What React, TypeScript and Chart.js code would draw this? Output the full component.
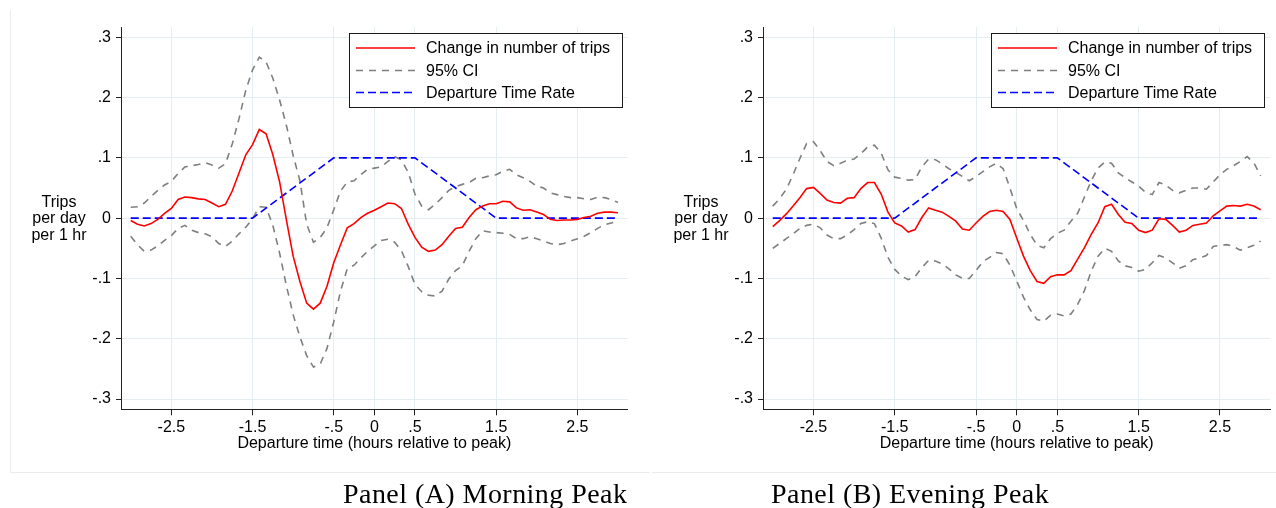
import React, { useEffect, useRef } from 'react';
import { Chart, registerables } from 'chart.js';

Chart.register(...registerables);

const FONT = '"Liberation Sans", Arial, Helvetica, sans-serif';
const SERIF = '"Liberation Serif", "Times New Roman", serif';

// Departure time: minutes relative to peak (5-minute steps)
const MINUTES = [
  -180, -175, -170, -165, -160, -155, -150, -145, -140, -135, -130, -125, -120,
  -115, -110, -105, -100, -95, -90, -85, -80, -75, -70, -65, -60, -55, -50, -45,
  -40, -35, -30, -25, -20, -15, -10, -5, 0, 5, 10, 15, 20, 25, 30, 35, 40, 45, 50,
  55, 60, 65, 70, 75, 80, 85, 90, 95, 100, 105, 110, 115, 120, 125, 130, 135, 140,
  145, 150, 155, 160, 165, 170, 175, 180,
];

const X_TICKS = [-2.5, -1.5, -0.5, 0, 0.5, 1.5, 2.5];
const Y_TICKS = [-0.3, -0.2, -0.1, 0, 0.1, 0.2, 0.3];

const X_TITLE = 'Departure time (hours relative to peak)';
const Y_TITLE = ['Trips', 'per day', 'per 1 hr'];
const LEGEND_LABELS = ['Change in number of trips', '95% CI', 'Departure Time Rate'];
const CAPTIONS = ['Panel (A) Morning Peak', 'Panel (B) Evening Peak'];

// Departure time rate (corner points, hours / rate)
const RATE_HOURS = [-3, -1.5, -0.5, 0.5, 1.5, 3];
const RATE_VALUES = [0, 0, 0.1, 0.1, 0, 0];

// Panel A: morning peak
const AM_CHANGE = [
  -0.004, -0.010, -0.013, -0.009, -0.002, 0.008, 0.016, 0.031, 0.035, 0.034,
  0.032, 0.031, 0.025, 0.019, 0.023, 0.045, 0.075, 0.105, 0.122, 0.147,
  0.140, 0.105, 0.060, -0.003, -0.063, -0.105, -0.141, -0.151, -0.141, -0.113,
  -0.074, -0.044, -0.016, -0.009, 0.001, 0.008, 0.013, 0.019, 0.025, 0.024,
  0.016, -0.010, -0.032, -0.048, -0.055, -0.053, -0.044, -0.030, -0.017, -0.015,
  0.001, 0.014, 0.020, 0.024, 0.024, 0.028, 0.027, 0.017, 0.013, 0.014,
  0.010, 0.006, -0.002, -0.004, -0.003, -0.003, -0.002, 0.001, 0.003, 0.008,
  0.010, 0.010, 0.009,
];
const AM_UPPER = [
  0.018, 0.019, 0.025, 0.036, 0.046, 0.055, 0.061, 0.074, 0.085, 0.087,
  0.089, 0.092, 0.088, 0.083, 0.090, 0.123, 0.165, 0.212, 0.246, 0.267,
  0.259, 0.232, 0.196, 0.154, 0.104, 0.062, -0.010, -0.040, -0.032, -0.016,
  0.014, 0.045, 0.060, 0.062, 0.072, 0.081, 0.083, 0.085, 0.094, 0.102,
  0.097, 0.076, 0.040, 0.020, 0.014, 0.023, 0.034, 0.046, 0.052, 0.056,
  0.059, 0.066, 0.067, 0.070, 0.072, 0.078, 0.081, 0.072, 0.067, 0.061,
  0.053, 0.050, 0.042, 0.039, 0.036, 0.034, 0.034, 0.032, 0.031, 0.035,
  0.034, 0.031, 0.026,
];
const AM_LOWER = [
  -0.030, -0.044, -0.055, -0.053, -0.046, -0.037, -0.029, -0.017, -0.012, -0.020,
  -0.024, -0.026, -0.031, -0.042, -0.047, -0.038, -0.026, -0.015, -0.001, 0.019,
  0.018, -0.012, -0.058, -0.112, -0.160, -0.197, -0.228, -0.247, -0.242, -0.216,
  -0.172, -0.121, -0.084, -0.078, -0.066, -0.055, -0.046, -0.037, -0.035, -0.040,
  -0.054, -0.080, -0.110, -0.122, -0.128, -0.129, -0.121, -0.101, -0.087, -0.079,
  -0.055, -0.034, -0.021, -0.023, -0.024, -0.025, -0.027, -0.034, -0.034, -0.031,
  -0.034, -0.038, -0.042, -0.044, -0.042, -0.038, -0.034, -0.030, -0.024, -0.017,
  -0.011, -0.008, -0.005,
];

// Panel B: evening peak
const PM_CHANGE = [
  -0.014, -0.004, 0.007, 0.020, 0.034, 0.049, 0.051, 0.041, 0.030, 0.026,
  0.025, 0.033, 0.034, 0.049, 0.059, 0.059, 0.040, 0.010, -0.008, -0.013,
  -0.023, -0.019, 0.001, 0.017, 0.013, 0.010, 0.003, -0.005, -0.018, -0.020,
  -0.008, 0.003, 0.011, 0.013, 0.011, -0.002, -0.033, -0.063, -0.087, -0.105,
  -0.108, -0.097, -0.094, -0.094, -0.087, -0.068, -0.049, -0.027, -0.008, 0.019,
  0.023, 0.006, -0.007, -0.009, -0.020, -0.024, -0.020, -0.001, -0.002, -0.012,
  -0.023, -0.020, -0.012, -0.010, -0.008, 0.004, 0.012, 0.020, 0.021, 0.020,
  0.023, 0.020, 0.014,
];
const PM_UPPER = [
  0.020, 0.032, 0.048, 0.072, 0.099, 0.124, 0.127, 0.112, 0.094, 0.087,
  0.091, 0.096, 0.098, 0.107, 0.118, 0.121, 0.108, 0.080, 0.068, 0.066,
  0.063, 0.064, 0.085, 0.098, 0.097, 0.090, 0.082, 0.076, 0.069, 0.062,
  0.069, 0.077, 0.085, 0.091, 0.082, 0.050, 0.016, -0.004, -0.027, -0.045,
  -0.049, -0.034, -0.025, -0.020, -0.005, 0.008, 0.035, 0.062, 0.083, 0.093,
  0.091, 0.075, 0.067, 0.060, 0.053, 0.043, 0.039, 0.059, 0.055, 0.046,
  0.042, 0.046, 0.050, 0.050, 0.048, 0.060, 0.072, 0.081, 0.087, 0.094,
  0.102, 0.092, 0.070,
];
const PM_LOWER = [
  -0.050, -0.042, -0.034, -0.026, -0.017, -0.012, -0.010, -0.016, -0.028, -0.034,
  -0.034, -0.028, -0.019, -0.009, -0.006, -0.009, -0.033, -0.065, -0.085, -0.096,
  -0.102, -0.097, -0.082, -0.070, -0.071, -0.076, -0.084, -0.094, -0.100, -0.100,
  -0.087, -0.072, -0.065, -0.057, -0.059, -0.078, -0.104, -0.131, -0.152, -0.168,
  -0.171, -0.161, -0.159, -0.162, -0.159, -0.143, -0.120, -0.088, -0.063, -0.050,
  -0.055, -0.071, -0.079, -0.082, -0.088, -0.085, -0.074, -0.062, -0.066, -0.074,
  -0.083, -0.079, -0.069, -0.066, -0.062, -0.047, -0.045, -0.044, -0.047, -0.053,
  -0.049, -0.045, -0.038,
];

const RED = '#ff0000';
const GRAY = '#7f7f7f';
const BLUE = '#0000ff';
const GRID = '#e4edef';
const GRAY_DASH = [7, 6];
const BLUE_DASH = [8, 4];

const fmt = (v: number) => {
  if (Math.abs(v) < 1e-9) return '0';
  const s = String(Math.abs(Math.round(v * 1000) / 1000)).replace(/^0/, '');
  return (v < 0 ? '-' : '') + s;
};

const toPoints = (vals: number[]) => MINUTES.map((m, i) => ({ x: m / 60, y: vals[i] }));

const legendPlugin = {
  id: 'stataLegend',
  afterDraw(chart: any) {
    const ctx = chart.ctx as CanvasRenderingContext2D;
    ctx.save();
    const bx = 349.5, by = 33.5, bw = 273, bh = 74;
    ctx.fillStyle = '#ffffff';
    ctx.fillRect(bx, by, bw, bh);
    ctx.strokeStyle = '#1a1a1a';
    ctx.lineWidth = 1;
    ctx.setLineDash([]);
    ctx.strokeRect(bx, by, bw, bh);
    const rows = [
      { label: LEGEND_LABELS[0], color: RED, dash: [] as number[], y: 48 },
      { label: LEGEND_LABELS[1], color: GRAY, dash: GRAY_DASH, y: 70.5 },
      { label: LEGEND_LABELS[2], color: BLUE, dash: BLUE_DASH, y: 92.5 },
    ];
    ctx.font = `16px ${FONT}`;
    ctx.textBaseline = 'middle';
    ctx.textAlign = 'left';
    rows.forEach((r) => {
      ctx.beginPath();
      ctx.strokeStyle = r.color;
      ctx.lineWidth = 1.6;
      ctx.setLineDash(r.dash);
      ctx.moveTo(356, r.y);
      ctx.lineTo(415, r.y);
      ctx.stroke();
      ctx.setLineDash([]);
      ctx.fillStyle = '#000';
      ctx.fillText(r.label, 426, r.y + 1);
    });
    ctx.restore();
  },
};

const yTitlePlugin = {
  id: 'yTitleHoriz',
  afterDraw(chart: any) {
    const ctx = chart.ctx as CanvasRenderingContext2D;
    const zero = chart.scales.y.getPixelForValue(0);
    ctx.save();
    ctx.font = `16px ${FONT}`;
    ctx.fillStyle = '#000';
    ctx.textAlign = 'center';
    ctx.textBaseline = 'middle';
    Y_TITLE.forEach((line, i) => {
      ctx.fillText(line, chart.chartArea.left - 62, zero - 16 + i * 16.5);
    });
    ctx.restore();
  },
};

function makeConfig(change: number[], upper: number[], lower: number[], padRight: number): any {
  return {
    type: 'line',
    data: {
      datasets: [
        {
          label: LEGEND_LABELS[0],
          data: toPoints(change),
          borderColor: RED,
          borderWidth: 1.6,
          pointRadius: 0,
          tension: 0,
          fill: false,
        },
        {
          label: LEGEND_LABELS[2],
          data: RATE_HOURS.map((h, i) => ({ x: h, y: RATE_VALUES[i] })),
          borderColor: BLUE,
          borderWidth: 1.6,
          borderDash: BLUE_DASH,
          pointRadius: 0,
          tension: 0,
          fill: false,
        },
        {
          label: LEGEND_LABELS[1],
          data: toPoints(upper),
          borderColor: GRAY,
          borderWidth: 1.6,
          borderDash: GRAY_DASH,
          pointRadius: 0,
          tension: 0,
          fill: false,
        },
        {
          label: LEGEND_LABELS[1] + ' (lower)',
          data: toPoints(lower),
          borderColor: GRAY,
          borderWidth: 1.6,
          borderDash: GRAY_DASH,
          pointRadius: 0,
          tension: 0,
          fill: false,
        },
      ],
    },
    options: {
      animation: false,
      responsive: false,
      maintainAspectRatio: false,
      events: [],
      layout: { padding: { left: 0, right: padRight, top: 27, bottom: 27 } },
      plugins: { legend: { display: false }, tooltip: { enabled: false } },
      scales: {
        x: {
          type: 'linear',
          min: -3.12,
          max: 3.12,
          afterBuildTicks: (s: any) => {
            s.ticks = X_TICKS.map((v) => ({ value: v }));
          },
          afterFit: (s: any) => {
            s.height = 43.7;
          },
          ticks: {
            callback: (v: any) => fmt(Number(v)),
            font: { family: FONT, size: 16 },
            color: '#000',
            padding: 3,
            maxRotation: 0,
            autoSkip: false,
          },
          grid: { color: GRID, lineWidth: 1, tickColor: '#222', tickLength: 6, drawTicks: true },
          border: { display: true, color: '#222', width: 1 },
          title: {
            display: true,
            text: X_TITLE,
            font: { family: FONT, size: 16 },
            color: '#000',
            padding: 0,
          },
        },
        y: {
          type: 'linear',
          min: -0.317,
          max: 0.317,
          afterBuildTicks: (s: any) => {
            s.ticks = Y_TICKS.map((v) => ({ value: v }));
          },
          afterFit: (s: any) => {
            s.width = 121;
          },
          ticks: {
            callback: (v: any) => fmt(Number(v)),
            font: { family: FONT, size: 16 },
            color: '#000',
            padding: 5,
            autoSkip: false,
          },
          grid: { color: GRID, lineWidth: 1, tickColor: '#222', tickLength: 5, drawTicks: true },
          border: { display: true, color: '#222', width: 1 },
        },
      },
    },
    plugins: [yTitlePlugin, legendPlugin],
  };
}

function Panel(props: { change: number[]; upper: number[]; lower: number[]; left: number; width: number; padRight: number }) {
  const ref = useRef<HTMLCanvasElement>(null);
  useEffect(() => {
    const chart = new Chart(ref.current as HTMLCanvasElement, makeConfig(props.change, props.upper, props.lower, props.padRight));
    return () => chart.destroy();
  }, []);
  return (
    <canvas
      ref={ref}
      width={props.width}
      height={480}
      style={{ position: 'absolute', left: props.left, top: 0, width: props.width, height: 480 }}
    />
  );
}

const captionStyle = (left: number): React.CSSProperties => ({
  position: 'absolute',
  left,
  top: 480,
  fontFamily: SERIF,
  fontSize: 28,
  lineHeight: '28px',
  letterSpacing: '0.45px',
  color: '#000',
  whiteSpace: 'nowrap',
});

export default function App() {
  return (
    <div style={{ position: 'absolute', left: 0, top: 0, width: 1276, height: 508, background: '#fff', overflow: 'hidden' }}>
      <div style={{ position: 'absolute', left: 10, top: 10, width: 639, height: 462, borderLeft: '1px solid #ececec', borderBottom: '1px solid #ececec' }} />
      <div style={{ position: 'absolute', left: 652, top: 10, width: 624, height: 462, borderBottom: '1px solid #ececec' }} />
      <Panel change={AM_CHANGE} upper={AM_UPPER} lower={AM_LOWER} left={0} width={642} padRight={14.3} />
      <Panel change={PM_CHANGE} upper={PM_UPPER} lower={PM_LOWER} left={642} width={634} padRight={5.6} />
      <div style={captionStyle(343)}>{CAPTIONS[0]}</div>
      <div style={captionStyle(771)}>{CAPTIONS[1]}</div>
    </div>
  );
}
